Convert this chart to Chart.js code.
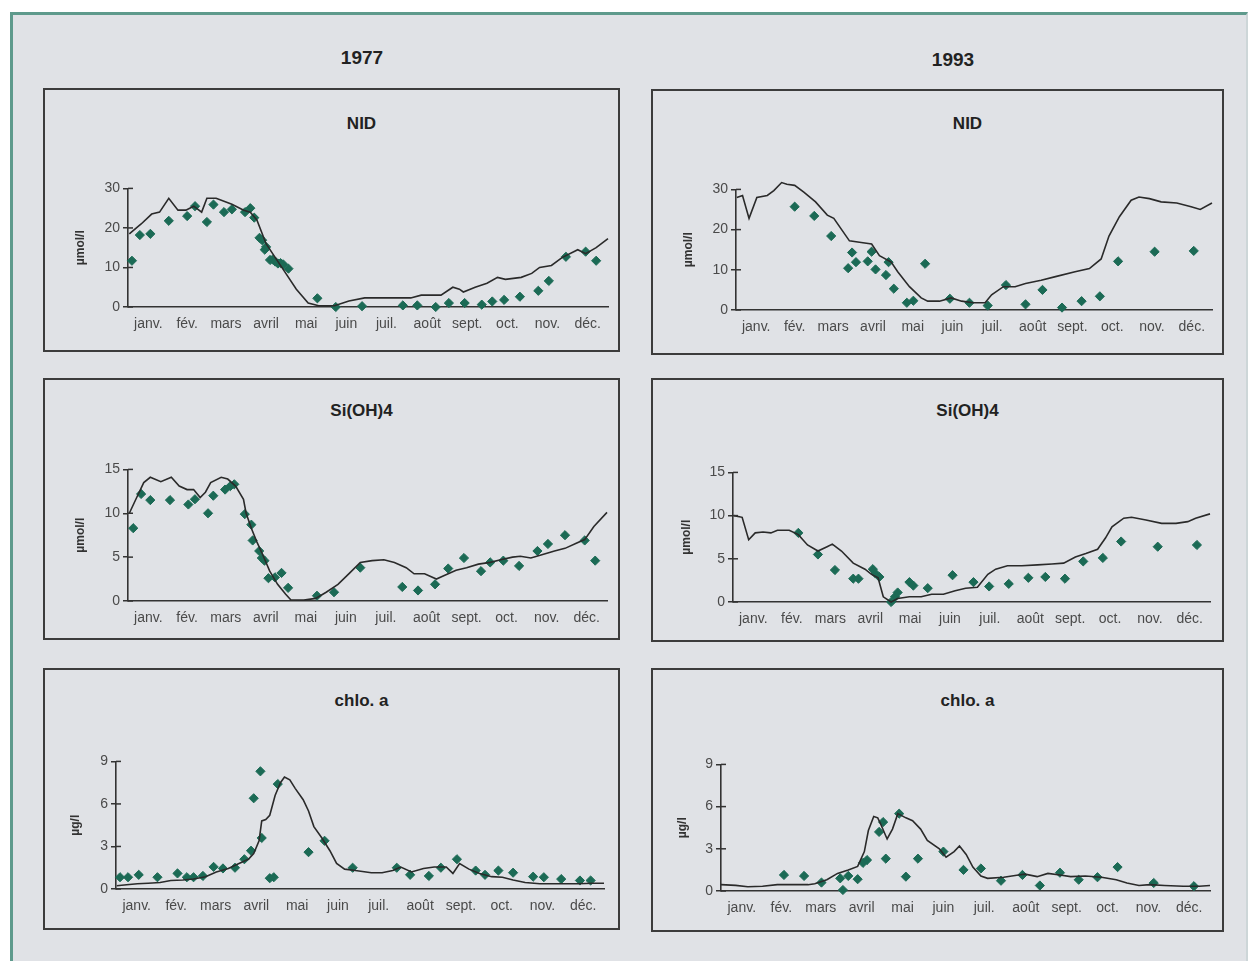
<!DOCTYPE html>
<html lang="fr">
<head>
<meta charset="utf-8">
<script src="https://cdn.jsdelivr.net/npm/chart.js@4.4.1/dist/chart.umd.min.js"></script>
<style>
  body { margin: 0; background: #fff; font-family: 'Liberation Sans', Arial, sans-serif; }
  #rahmen { position: absolute; left: 10px; top: 12px; width: 1238px; height: 949px;
            background: #e0e2e6; border-top: 3px solid #5e9a8c; border-left: 3px solid #5e9a8c;
            border-right: 2px solid #cdd6d8; box-sizing: border-box; }
  .jahr { position: absolute; font-weight: bold; font-size: 19px; color: #222; transform: translateX(-50%); }
  .box { position: absolute; border: 2px solid #3c3c3c; box-sizing: border-box; }
  .titel { position: absolute; font-weight: bold; font-size: 17px; color: #222; transform: translateX(-50%); }
  canvas { position: absolute; }
</style>
</head>
<body>
<div id="rahmen"></div>
<div class="jahr" style="left:362px; top:47px">1977</div>
<div class="jahr" style="left:953px; top:49px">1993</div>
<div id="seite"></div>
<script>
// Monate (Beschriftung in der Monatsmitte, Tag im Jahr)
const monate = ['janv.', 'fév.', 'mars', 'avril', 'mai', 'juin', 'juil.', 'août', 'sept.', 'oct.', 'nov.', 'déc.'];
const monatsMitte = [15.5, 45, 74.5, 105, 135.5, 166, 196.5, 227.5, 258, 288.5, 319, 349.5];

// NID 1977 [Tag, µmol/l]
const nid1977Modell = [[1,18.5],[10,21],[18,23.5],[24,24],[31,27.5],[38,24.5],[44,24.5],[50,25.5],[56,24],[60,27.5],[67,27.5],[79,26],[88,24.5],[93,24],[98,22],[105,16],[112,12.5],[119,9],[128,4.5],[137,1],[145,0.3],[157,0.3],[168,1.5],[180,2.3],[192,2.3],[215,2.3],[223,3],[238,3],[247,5],[252,4.5],[255,3.8],[264,5],[273,6],[281,7.5],[287,7],[299,7.5],[307,8.5],[313,10],[322,10.5],[330,12.5],[342,14.5],[348,13.5],[356,15],[365,17.3]];
const nid1977Mess = [[3,11.7],[9,18.2],[17,18.5],[31,21.8],[45,23],[51,25.5],[60,21.5],[65,25.9],[73,24],[79,24.7],[89,24],[93,25],[96,22.6],[100,17.5],[102,16.9],[104,14.5],[105,15.2],[108,11.9],[110,12],[112,11.5],[114,11],[116,11.1],[118,10.8],[122,9.7],[144,2.2],[158,0],[178,0.2],[209,0.4],[220,0.4],[234,0],[244,1],[256,1],[269,0.6],[277,1.4],[286,1.8],[298,2.6],[312,4.1],[320,6.6],[333,12.7],[348,14],[356,11.7]];

// NID 1993
const nid1993Modell = [[0.6,28],[5,28.5],[10,22.8],[16,28],[24,28.5],[29,29.7],[35,31.7],[39,31.3],[45,31],[52,29.3],[61,26.9],[70,23.6],[75,22.8],[81,20],[87,17.2],[96,16.8],[104,16.4],[110,13.5],[119,11.9],[124,9.5],[133,5.8],[142,3],[147,2.2],[156,2.2],[165,3],[173,2.2],[182,1.8],[191,1.8],[196,3.8],[205,5.8],[214,5.8],[222,6.6],[234,7.4],[245,8.3],[260,9.5],[271,10.3],[280,12.7],[286,18.4],[294,23.2],[303,27.3],[309,28.1],[317,27.7],[326,26.9],[338,26.6],[349,25.7],[356,25],[365,26.6]];
const nid1993Mess = [[45,25.7],[60,23.4],[73,18.4],[86,10.4],[89,14.3],[92,11.9],[101,12.1],[104,14.5],[107,10.1],[115,8.7],[117,11.9],[121,5.3],[131,1.8],[136,2.3],[145,11.5],[164,2.8],[179,1.8],[193,1.1],[207,6.2],[222,1.4],[235,5],[250,0.6],[265,2.2],[279,3.4],[293,12.1],[321,14.5],[351,14.7]];

// Si(OH)4 1977
const si1977Modell = [[1,10],[6,11.6],[12,13.5],[17,14.1],[25,13.6],[33,14.1],[39,13.1],[45,12.7],[50,12.7],[55,11.8],[59,12.4],[63,13.5],[71,14.1],[76,13.9],[82,13.1],[88,11.6],[90,10],[94,8.3],[98,6.8],[102,5.5],[108,3.4],[114,1.9],[120,0.8],[124,0.15],[134,0.1],[143,0.3],[151,1],[160,1.9],[169,3.2],[177,4.4],[186,4.6],[195,4.7],[203,4.4],[212,3.8],[218,3.1],[226,3.1],[235,2.5],[241,2.9],[250,3.5],[258,3.8],[267,4.2],[276,4.4],[284,4.7],[293,5],[299,5.1],[307,4.9],[316,5.3],[325,5.7],[333,6],[342,6.6],[348,7],[355,8.5],[365,10.1]];
const si1977Mess = [[4,8.3],[10,12.2],[17,11.5],[32,11.5],[46,11],[51,11.6],[61,10],[65,12],[74,12.7],[78,13.1],[81,13.3],[89,9.9],[94,8.7],[95,6.9],[100,5.7],[102,4.9],[104,4.6],[107,2.6],[112,2.7],[117,3.2],[122,1.5],[144,0.6],[157,1],[177,3.8],[209,1.6],[221,1.2],[234,1.9],[244,3.7],[256,4.9],[269,3.4],[276,4.4],[286,4.6],[298,4],[312,5.7],[320,6.5],[333,7.5],[348,6.9],[356,4.6]];

// Si(OH)4 1993
const si1993Modell = [[0.6,10],[7,9.8],[12,7.2],[17,8],[23,8.1],[29,8],[34,8.3],[43,8.3],[50,7.8],[57,6.6],[65,5.9],[72,6.4],[76,6.7],[83,5.9],[92,4.5],[101,3.8],[106,3.2],[111,2.8],[115,0.6],[121,0],[126,0.4],[135,0.6],[144,0.6],[152,0.9],[161,0.9],[170,1.3],[178,1.6],[187,1.7],[195,3.2],[201,3.8],[210,4.2],[221,4.2],[233,4.3],[244,4.4],[253,4.5],[262,5.2],[270,5.6],[279,6.1],[285,7.4],[290,8.7],[299,9.7],[305,9.8],[316,9.5],[328,9.1],[339,9.1],[348,9.3],[354,9.7],[365,10.2]];
const si1993Mess = [[50,8],[65,5.5],[78,3.7],[92,2.7],[96,2.7],[107,3.8],[109,3.3],[112,2.9],[121,0],[124,0.6],[126,1.1],[135,2.3],[138,1.9],[149,1.6],[168,3.1],[184,2.3],[196,1.8],[211,2.1],[226,2.8],[239,2.9],[254,2.7],[268,4.7],[283,5.1],[297,7],[325,6.4],[355,6.6]];

// chlo. a 1977 [Tag, µg/l]
const chl1977Modell = [[0.6,0.23],[8,0.3],[16,0.37],[24,0.41],[33,0.46],[41,0.6],[50,0.64],[58,0.7],[67,0.87],[75,1.2],[84,1.45],[92,1.8],[99,2.1],[103,2.5],[107,3.4],[109,4.8],[112,4.9],[115,5.2],[119,6.6],[123,7.5],[126,7.9],[130,7.7],[134,7.1],[140,6.3],[144,5.5],[148,4.4],[154,3.6],[160,2.7],[165,1.8],[171,1.4],[179,1.3],[191,1.15],[199,1.15],[207,1.3],[213,1.55],[221,1.2],[230,1.45],[238,1.55],[247,1.55],[252,1.1],[257,1.8],[264,1.4],[272,1.1],[281,0.87],[289,0.83],[297,0.64],[306,0.46],[317,0.37],[331,0.37],[345,0.37],[357,0.41],[365,0.41]];
const chl1977Mess = [[3,0.83],[9,0.83],[17,1],[31,0.83],[46,1.1],[53,0.83],[58,0.83],[65,0.92],[73,1.56],[80,1.45],[89,1.5],[96,2.1],[101,2.7],[103,6.4],[108,8.3],[109,3.6],[115,0.76],[118,0.83],[121,7.4],[144,2.6],[156,3.4],[177,1.5],[210,1.5],[220,1],[234,0.92],[243,1.5],[255,2.1],[269,1.3],[276,1],[286,1.3],[297,1.15],[312,0.87],[320,0.83],[333,0.7],[347,0.6],[355,0.6]];

// chlo. a 1993
const chl1993Modell = [[0,0.45],[11,0.4],[20,0.3],[31,0.34],[42,0.45],[53,0.45],[65,0.45],[70,0.52],[79,0.8],[87,1.25],[95,1.5],[102,1.75],[107,2.8],[110,4.3],[114,5.3],[117,5.2],[119,4.8],[124,3.7],[128,4.4],[132,5.5],[138,5.2],[143,5],[149,4.4],[154,3.6],[163,3],[168,2.4],[174,2.8],[178,3.2],[183,2.6],[188,1.7],[194,1.07],[199,0.9],[211,0.98],[222,1.14],[227,1.2],[236,1.02],[244,1.25],[253,1.14],[261,1.02],[272,1.07],[284,0.98],[295,0.8],[303,0.57],[312,0.39],[320,0.45],[331,0.39],[345,0.34],[357,0.34],[365,0.39]];
const chl1993Mess = [[47,1.14],[62,1.07],[75,0.6],[89,0.9],[91,0.07],[95,1.07],[102,0.84],[106,2],[109,2.2],[118,4.2],[121,4.9],[123,2.3],[133,5.5],[138,1.02],[147,2.3],[166,2.8],[181,1.5],[194,1.6],[209,0.73],[225,1.14],[238,0.39],[253,1.3],[267,0.8],[281,0.98],[296,1.7],[323,0.57],[353,0.34]];

// Panels: Rahmen, Achsenlage (Seitenpixel) und Daten
const panels = [
    { titel: 'NID', box: [43, 88, 577, 264], titelY: 114, achseX: 128, endeX: 608, obenY: 185, nullY: 307, einheitX: 80, einheit: 'µmol/l', max: 30, schritt: 10, modell: nid1977Modell, mess: nid1977Mess },
    { titel: 'NID', box: [651, 89, 573, 266], titelY: 114, achseX: 736, endeX: 1212, obenY: 186, nullY: 310, einheitX: 688, einheit: 'µmol/l', max: 30, schritt: 10, modell: nid1993Modell, mess: nid1993Mess },
    { titel: 'Si(OH)4', box: [43, 378, 577, 262], titelY: 401, achseX: 128, endeX: 607, obenY: 466, nullY: 601, einheitX: 80, einheit: 'µmol/l', max: 15, schritt: 5, modell: si1977Modell, mess: si1977Mess },
    { titel: 'Si(OH)4', box: [651, 378, 573, 264], titelY: 401, achseX: 733, endeX: 1210, obenY: 469, nullY: 602, einheitX: 686, einheit: 'µmol/l', max: 15, schritt: 5, modell: si1993Modell, mess: si1993Mess },
    { titel: 'chlo. a', box: [43, 668, 577, 262], titelY: 691, achseX: 116, endeX: 604, obenY: 758, nullY: 889, einheitX: 75, einheit: 'µg/l', max: 9, schritt: 3, modell: chl1977Modell, mess: chl1977Mess },
    { titel: 'chlo. a', box: [651, 668, 573, 264], titelY: 691, achseX: 721, endeX: 1210, obenY: 761, nullY: 891, einheitX: 682, einheit: 'µg/l', max: 9, schritt: 3, modell: chl1993Modell, mess: chl1993Mess }
];

const seite = document.getElementById('seite');
const Y_BREITE = 60, X_HOEHE = 30, PAD_OBEN = 8, PAD_RECHTS = 6;
const schrift = "'Liberation Sans Narrow', 'Liberation Sans', Arial, sans-serif";

// kurze Striche nach innen, damit die Ticks wie "+" aussehen
const kreuzTicks = {
    id: 'kreuzTicks',
    afterDraw(chart) {
        const ctx = chart.ctx, y = chart.scales.y, x0 = chart.chartArea.left;
        ctx.save();
        ctx.strokeStyle = '#333';
        ctx.lineWidth = 1.5;
        y.ticks.forEach(t => {
            const py = y.getPixelForValue(t.value);
            ctx.beginPath();
            ctx.moveTo(x0, py);
            ctx.lineTo(x0 + 5, py);
            ctx.stroke();
        });
        ctx.restore();
    }
};

function zeichnePanel(p) {
    const box = document.createElement('div');
    box.className = 'box';
    box.style.cssText = `left:${p.box[0]}px;top:${p.box[1]}px;width:${p.box[2]}px;height:${p.box[3]}px`;
    seite.appendChild(box);

    const titel = document.createElement('div');
    titel.className = 'titel';
    titel.textContent = p.titel;
    titel.style.cssText = `left:${p.box[0] + p.box[2] / 2 + 30}px;top:${p.titelY}px`;
    seite.appendChild(titel);

    const canvas = document.createElement('canvas');
    const links = p.achseX - Y_BREITE;
    const breite = p.endeX - p.achseX + Y_BREITE + PAD_RECHTS;
    const hoehe = p.nullY - p.obenY + PAD_OBEN + X_HOEHE;
    canvas.width = breite;
    canvas.height = hoehe;
    canvas.style.left = links + 'px';
    canvas.style.top = (p.obenY - PAD_OBEN) + 'px';
    seite.appendChild(canvas);

    new Chart(canvas, {
        data: {
            datasets: [{
                type: 'line',
                data: p.modell.map(d => ({ x: d[0], y: d[1] })),
                borderColor: '#2a2a2a',
                borderWidth: 1.6,
                pointRadius: 0,
                tension: 0,
                clip: false
            }, {
                type: 'scatter',
                data: p.mess.map(d => ({ x: d[0], y: d[1] })),
                pointStyle: 'rectRot',
                pointRadius: 4.6,
                backgroundColor: '#1b6a55',
                borderColor: '#1b6a55',
                borderWidth: 1,
                clip: false
            }]
        },
        options: {
            responsive: false,
            animation: false,
            devicePixelRatio: 1,
            layout: { padding: { top: PAD_OBEN, right: PAD_RECHTS, left: 0, bottom: 0 } },
            plugins: { legend: { display: false }, tooltip: { enabled: false } },
            scales: {
                x: {
                    type: 'linear',
                    min: 0,
                    max: 365,
                    grid: { display: false, drawTicks: false },
                    border: { display: true, color: '#333', width: 1.6 },
                    afterBuildTicks: s => { s.ticks = monatsMitte.map(v => ({ value: v })); },
                    afterFit: s => { s.height = X_HOEHE; },
                    ticks: {
                        autoSkip: false,
                        maxRotation: 0,
                        padding: 9,
                        color: '#4a4a4a',
                        font: { family: schrift, size: 14 },
                        callback: (wert, i) => monate[i]
                    }
                },
                y: {
                    min: 0,
                    max: p.max,
                    afterBuildTicks: s => {
                        const t = [];
                        for (let v = 0; v <= p.max; v += p.schritt) t.push({ value: v });
                        s.ticks = t;
                    },
                    afterFit: s => { s.width = Y_BREITE; },
                    grid: { drawOnChartArea: false, drawTicks: true, tickLength: 5, color: '#333', lineWidth: 1.5 },
                    border: { display: true, color: '#333', width: 1.6 },
                    ticks: { padding: 3, color: '#4a4a4a', font: { family: schrift, size: 14 } },
                    title: {
                        display: true,
                        text: p.einheit,
                        color: '#333',
                        font: { family: "'Liberation Sans', Arial, sans-serif", size: 12, weight: 'bold' },
                        padding: { top: p.einheitX - links - 7, bottom: 0 }
                    }
                }
            }
        },
        plugins: [kreuzTicks]
    });
}

panels.forEach(zeichnePanel);
</script>
</body>
</html>
